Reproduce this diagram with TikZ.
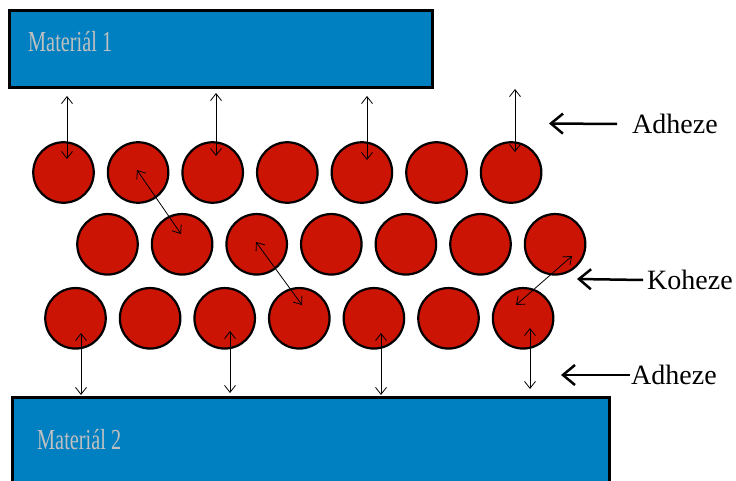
\documentclass[tikz,border=0pt]{standalone}
\usepackage{fontspec}
\setmainfont{Liberation Serif}
\usetikzlibrary{arrows.meta}
\definecolor{matblue}{RGB}{0,128,192}
\definecolor{ballred}{RGB}{204,20,4}
\definecolor{mattext}{RGB}{192,192,192}
\begin{document}
\begin{tikzpicture}[x=1pt,y=-1pt,
  matbox/.style={draw=black, fill=matblue, line width=3pt, inner sep=0pt, rectangle},
  ball/.style={circle, draw=black, fill=ballred, line width=2.2pt, minimum size=60.5pt, inner sep=0pt},
  force/.style={line width=0.8pt, {Straight Barb[length=7pt,width=11pt]}-{Straight Barb[length=7pt,width=11pt]}},
  pointer/.style={line width=2.5pt, -{Straight Barb[length=12pt,width=20pt]}},
  mattxt/.style={text=mattext, font=\fontsize{29}{32}\selectfont, anchor=west, inner sep=0pt},
  lab/.style={font=\fontsize{28}{30}\selectfont, anchor=west, inner sep=0pt}]
\clip (0,0) rectangle (736,481);
\useasboundingbox (0,0) rectangle (736,481);
% materials
\node[matbox, minimum width=423pt, minimum height=77pt] (m1) at (221,49) {};
\node[matbox, minimum width=597pt, minimum height=110pt] (m2) at (310.9,452.2) {};
\node[mattxt] (t1) at (28,42) {\scalebox{0.7}[1]{Materiál 1}};
\node[mattxt] (t2) at (37,440) {\scalebox{0.7}[1]{Materiál 2}};
% balls
\foreach \i in {1,...,7}{
  \node[ball] (a\i) at ({63.5+74.6*(\i-1)},172.5) {};
  \node[ball] (b\i) at ({107.5+74.6*(\i-1)},244.3) {};
  \node[ball] (c\i) at ({75.5+74.6*(\i-1)},318.3) {};
}
% adhesion top
\coordinate (u1) at (67,96);   \coordinate (v1) at (67,159);
\coordinate (u2) at (216,93);  \coordinate (v2) at (216,156);
\coordinate (u3) at (367,96);  \coordinate (v3) at (367,160);
\coordinate (u4) at (515,89);  \coordinate (v4) at (515,152);
\foreach \k in {1,...,4}{\draw[force] (u\k) -- (v\k);}
% adhesion bottom
\coordinate (p1) at (81,333);  \coordinate (q1) at (81,395);
\coordinate (p2) at (230,331); \coordinate (q2) at (230,393);
\coordinate (p3) at (381,333); \coordinate (q3) at (381,395);
\coordinate (p4) at (530,328); \coordinate (q4) at (530,389);
\foreach \k in {1,...,4}{\draw[force] (p\k) -- (q\k);}
% cohesion
\coordinate (k1) at (137,170); \coordinate (l1) at (181,234);
\coordinate (k2) at (256,242); \coordinate (l2) at (302,305);
\coordinate (k3) at (572,256); \coordinate (l3) at (516,305);
\foreach \k in {1,...,3}{\draw[force] (k\k) -- (l\k);}
% labels
\node[lab] (ad1) at (632,124) {Adheze};
\node[lab] (koh) at (647,280) {Koheze};
\node[lab] (ad2) at (631,375) {Adheze};
\coordinate (s1) at (549,123.5);
\coordinate (s2) at (577,279);
\coordinate (s3) at (561,375);
\draw[pointer] (ad1.west) ++(-15,0) -- (s1);
\draw[pointer] (koh.west) ++(-4,0) -- (s2);
\draw[pointer] (ad2.west) ++(-1,0) -- (s3);
\end{tikzpicture}
\end{document}
